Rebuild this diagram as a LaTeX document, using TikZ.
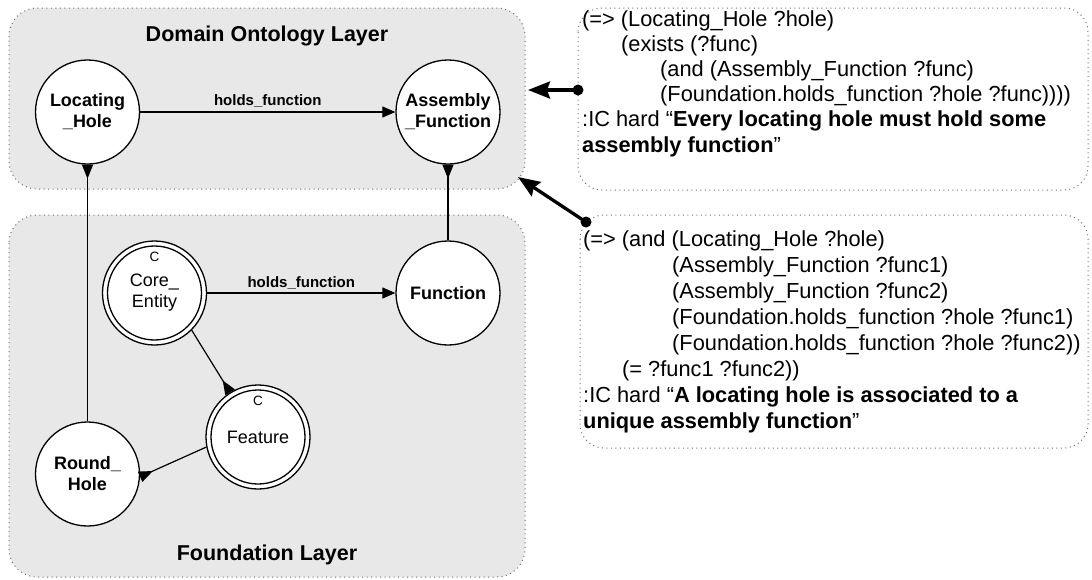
\documentclass[tikz,border=0pt]{standalone}
\usepackage{fontspec}
\setmainfont{Liberation Sans}
\usetikzlibrary{arrows.meta}
\definecolor{layerfill}{HTML}{E8E8E8}
\definecolor{dotgray}{HTML}{6E6E6E}

\begin{document}
\begin{tikzpicture}[x=1pt,y=-1pt,
  layer/.style={draw=dotgray, fill=layerfill, line width=1pt,
    dash pattern=on 1pt off 3.5pt, rounded corners=28pt},
  note/.style={draw=dotgray, fill=white, line width=1pt,
    dash pattern=on 1pt off 3.5pt, rounded corners=24pt},
  title/.style={anchor=base, inner sep=0pt, font=\fontsize{21.5}{25}\selectfont\bfseries},
  concept/.style={circle, draw, fill=white, line width=1.3pt, minimum size=104pt,
    inner sep=0pt, align=center, font=\fontsize{18}{21}\selectfont\bfseries},
  corecls/.style={concept, font=\fontsize{18}{21}\selectfont},
  cmark/.style={inner sep=0pt, font=\fontsize{13.5}{15}\selectfont},
  conn/.style={line width=1.2pt},
  fwd/.style={conn, -{Triangle[length=13pt,width=11pt]}},
  back/.style={conn, -{Triangle[reversed,length=14pt,width=11pt]}},
  rel/.style={inner sep=0pt, anchor=base, font=\fontsize{15}{18}\selectfont\bfseries},
  axline/.style={anchor=base west, inner sep=0pt, font=\fontsize{21.8}{26}\selectfont},
  bullet/.style={circle, fill, inner sep=0pt, minimum size=11pt},
  bigarrow/.style={line width=3.3pt, -{Stealth[length=22pt,width=17pt,inset=3pt]}}
]
\useasboundingbox (0,0) rectangle (1092,579);

% layers
\draw[layer] (9,8) rectangle (525,189);
\draw[layer] (9,215) rectangle (525,577);
\node[title] (domtitle) at (267,41) {Domain Ontology Layer};
\node[title] (foundtitle) at (267,560) {Foundation Layer};

% concepts
\node[concept] (LH) at (87.5,112) {Locating\\\_Hole};
\node[concept] (AF) at (448,112) {Assembly\\\_Function};
\node[concept] (FN) at (448,293) {Function};
\node[corecls] (CE) at (154.5,293) {Core\_\\Entity};
\node[corecls] (FE) at (258,437) {Feature};
\node[concept] (RH) at (87.5,474) {Round\_\\Hole};
\draw[line width=1.3pt] (CE.center) circle (47pt);
\draw[line width=1.3pt] (FE.center) circle (47pt);
\node[cmark] (CEc) at ([yshift=36pt]CE.center) {C};
\node[cmark] (FEc) at ([yshift=36pt]FE.center) {C};

% relations
\draw[fwd] (LH) -- node[rel, yshift=7pt] {holds\_function} (AF);
\draw[fwd] (CE) -- node[rel, yshift=6pt] {holds\_function} (FN);
\draw[back] (RH) -- (LH);
\draw[back] (FN) -- (AF);
\draw[back] (CE.-45) -- (FE.122);
\draw[back] (FE.191) -- (RH.-3);

% axioms
\draw[note] (578,8) rectangle (1088,190);
\draw[note] (580,215) rectangle (1088,448);

\node[axline] (a1l1) at (582,26)    {(=> (Locating\_Hole ?hole)};
\node[axline] (a1l2) at (621,51.2)  {(exists (?func)};
\node[axline] (a1l3) at (660,76.4)  {(and (Assembly\_Function ?func)};
\node[axline] (a1l4) at (660,101.6) {(Foundation.holds\_function ?hole ?func))))};
\node[axline] (a1l5) at (582,126.8) {:IC hard “\textbf{Every locating hole must hold some}};
\node[axline] (a1l6) at (582,152)   {\textbf{assembly function}”};

\node[axline] (a2l1) at (583,246)   {(=> (and (Locating\_Hole ?hole)};
\node[axline] (a2l2) at (672,272.1) {(Assembly\_Function ?func1)};
\node[axline] (a2l3) at (672,298.2) {(Assembly\_Function ?func2)};
\node[axline] (a2l4) at (672,324.3) {(Foundation.holds\_function ?hole ?func1)};
\node[axline] (a2l5) at (672,350.4) {(Foundation.holds\_function ?hole ?func2))};
\node[axline] (a2l6) at (622,376.5) {(= ?func1 ?func2))};
\node[axline] (a2l7) at (583,402.6) {:IC hard “\textbf{A locating hole is associated to a}};
\node[axline] (a2l8) at (583,428.7) {\textbf{unique assembly function}”};

% links from axioms to the domain layer
\node[bullet] (b1) at (578,90) {};
\coordinate (t1) at (528,90);
\draw[bigarrow] (b1.center) -- (t1);
\node[bullet] (b2) at (586,222) {};
\coordinate (t2) at (518,177);
\draw[bigarrow] (b2.center) -- (t2);
\end{tikzpicture}
\end{document}
